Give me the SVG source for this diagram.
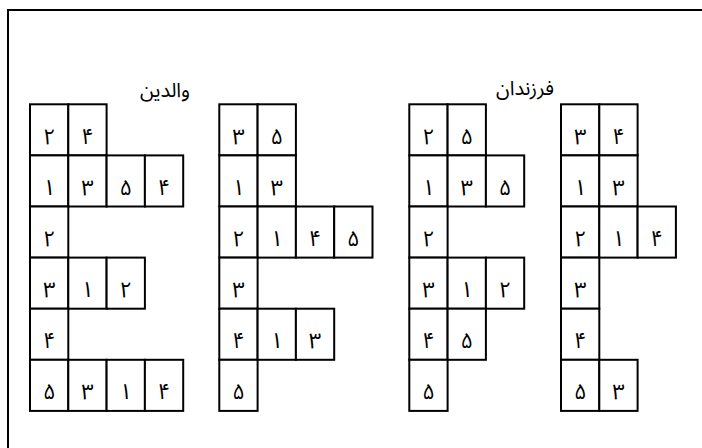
<svg xmlns="http://www.w3.org/2000/svg" width="702" height="448" viewBox="0 0 702 448">
<style>
.c{fill:#fff;stroke:#000;stroke-width:2}
.d{font-family:"Noto Sans Arabic","Noto Sans","Open Sans",sans-serif;font-size:22px;text-anchor:middle;fill:#000}
.t{font-family:"Noto Sans Arabic","Noto Sans","Open Sans",sans-serif;font-size:20px;text-anchor:middle;fill:#000}
</style>
<rect width="702" height="448" fill="#fff"/>
<path d="M8,448 V10 H702" fill="none" stroke="#000" stroke-width="2"/>
<text class="t" x="165" y="97" direction="rtl">والدین</text>
<text class="t" x="525" y="95" direction="rtl">فرزندان</text>
<g id="g1">
<rect class="c" x="30" y="104.3" width="38.3" height="51.1"/><rect class="c" x="68.3" y="104.3" width="38.3" height="51.1"/>
<rect class="c" x="30" y="155.4" width="38.3" height="51.1"/><rect class="c" x="68.3" y="155.4" width="38.3" height="51.1"/><rect class="c" x="106.6" y="155.4" width="38.3" height="51.1"/><rect class="c" x="144.9" y="155.4" width="38.3" height="51.1"/>
<rect class="c" x="30" y="206.5" width="38.3" height="51.1"/>
<rect class="c" x="30" y="257.6" width="38.3" height="51.1"/><rect class="c" x="68.3" y="257.6" width="38.3" height="51.1"/><rect class="c" x="106.6" y="257.6" width="38.3" height="51.1"/>
<rect class="c" x="30" y="308.7" width="38.3" height="51.1"/>
<rect class="c" x="30" y="359.8" width="38.3" height="51.1"/><rect class="c" x="68.3" y="359.8" width="38.3" height="51.1"/><rect class="c" x="106.6" y="359.8" width="38.3" height="51.1"/><rect class="c" x="144.9" y="359.8" width="38.3" height="51.1"/>
<text class="d" x="49.2" y="143.5">۲</text><text class="d" x="87.5" y="143.5">۴</text>
<text class="d" x="49.2" y="194.6">۱</text><text class="d" x="87.5" y="194.6">۳</text><text class="d" x="125.8" y="194.6">۵</text><text class="d" x="164.1" y="194.6">۴</text>
<text class="d" x="49.2" y="245.7">۲</text>
<text class="d" x="49.2" y="296.8">۳</text><text class="d" x="87.5" y="296.8">۱</text><text class="d" x="125.8" y="296.8">۲</text>
<text class="d" x="49.2" y="347.9">۴</text>
<text class="d" x="49.2" y="399">۵</text><text class="d" x="87.5" y="399">۳</text><text class="d" x="125.8" y="399">۱</text><text class="d" x="164.1" y="399">۴</text>
</g>
<g id="g2">
<rect class="c" x="219.3" y="104.3" width="38.3" height="51.1"/><rect class="c" x="257.6" y="104.3" width="38.3" height="51.1"/>
<rect class="c" x="219.3" y="155.4" width="38.3" height="51.1"/><rect class="c" x="257.6" y="155.4" width="38.3" height="51.1"/>
<rect class="c" x="219.3" y="206.5" width="38.3" height="51.1"/><rect class="c" x="257.6" y="206.5" width="38.3" height="51.1"/><rect class="c" x="295.9" y="206.5" width="38.3" height="51.1"/><rect class="c" x="334.2" y="206.5" width="38.3" height="51.1"/>
<rect class="c" x="219.3" y="257.6" width="38.3" height="51.1"/>
<rect class="c" x="219.3" y="308.7" width="38.3" height="51.1"/><rect class="c" x="257.6" y="308.7" width="38.3" height="51.1"/><rect class="c" x="295.9" y="308.7" width="38.3" height="51.1"/>
<rect class="c" x="219.3" y="359.8" width="38.3" height="51.1"/>
<text class="d" x="238.5" y="143.5">۳</text><text class="d" x="276.8" y="143.5">۵</text>
<text class="d" x="238.5" y="194.6">۱</text><text class="d" x="276.8" y="194.6">۳</text>
<text class="d" x="238.5" y="245.7">۲</text><text class="d" x="276.8" y="245.7">۱</text><text class="d" x="315.1" y="245.7">۴</text><text class="d" x="353.4" y="245.7">۵</text>
<text class="d" x="238.5" y="296.8">۳</text>
<text class="d" x="238.5" y="347.9">۴</text><text class="d" x="276.8" y="347.9">۱</text><text class="d" x="315.1" y="347.9">۳</text>
<text class="d" x="238.5" y="399">۵</text>
</g>
<g id="g3">
<rect class="c" x="409.3" y="104.3" width="38.3" height="51.1"/><rect class="c" x="447.6" y="104.3" width="38.3" height="51.1"/>
<rect class="c" x="409.3" y="155.4" width="38.3" height="51.1"/><rect class="c" x="447.6" y="155.4" width="38.3" height="51.1"/><rect class="c" x="485.9" y="155.4" width="38.3" height="51.1"/>
<rect class="c" x="409.3" y="206.5" width="38.3" height="51.1"/>
<rect class="c" x="409.3" y="257.6" width="38.3" height="51.1"/><rect class="c" x="447.6" y="257.6" width="38.3" height="51.1"/><rect class="c" x="485.9" y="257.6" width="38.3" height="51.1"/>
<rect class="c" x="409.3" y="308.7" width="38.3" height="51.1"/><rect class="c" x="447.6" y="308.7" width="38.3" height="51.1"/>
<rect class="c" x="409.3" y="359.8" width="38.3" height="51.1"/>
<text class="d" x="428.5" y="143.5">۲</text><text class="d" x="466.8" y="143.5">۵</text>
<text class="d" x="428.5" y="194.6">۱</text><text class="d" x="466.8" y="194.6">۳</text><text class="d" x="505.1" y="194.6">۵</text>
<text class="d" x="428.5" y="245.7">۲</text>
<text class="d" x="428.5" y="296.8">۳</text><text class="d" x="466.8" y="296.8">۱</text><text class="d" x="505.1" y="296.8">۲</text>
<text class="d" x="428.5" y="347.9">۴</text><text class="d" x="466.8" y="347.9">۵</text>
<text class="d" x="428.5" y="399">۵</text>
</g>
<g id="g4">
<rect class="c" x="561" y="104.3" width="38.3" height="51.1"/><rect class="c" x="599.3" y="104.3" width="38.3" height="51.1"/>
<rect class="c" x="561" y="155.4" width="38.3" height="51.1"/><rect class="c" x="599.3" y="155.4" width="38.3" height="51.1"/>
<rect class="c" x="561" y="206.5" width="38.3" height="51.1"/><rect class="c" x="599.3" y="206.5" width="38.3" height="51.1"/><rect class="c" x="637.6" y="206.5" width="38.3" height="51.1"/>
<rect class="c" x="561" y="257.6" width="38.3" height="51.1"/>
<rect class="c" x="561" y="308.7" width="38.3" height="51.1"/>
<rect class="c" x="561" y="359.8" width="38.3" height="51.1"/><rect class="c" x="599.3" y="359.8" width="38.3" height="51.1"/>
<text class="d" x="580.2" y="143.5">۳</text><text class="d" x="618.5" y="143.5">۴</text>
<text class="d" x="580.2" y="194.6">۱</text><text class="d" x="618.5" y="194.6">۳</text>
<text class="d" x="580.2" y="245.7">۲</text><text class="d" x="618.5" y="245.7">۱</text><text class="d" x="656.8" y="245.7">۴</text>
<text class="d" x="580.2" y="296.8">۳</text>
<text class="d" x="580.2" y="347.9">۴</text>
<text class="d" x="580.2" y="399">۵</text><text class="d" x="618.5" y="399">۳</text>
</g>
</svg>
